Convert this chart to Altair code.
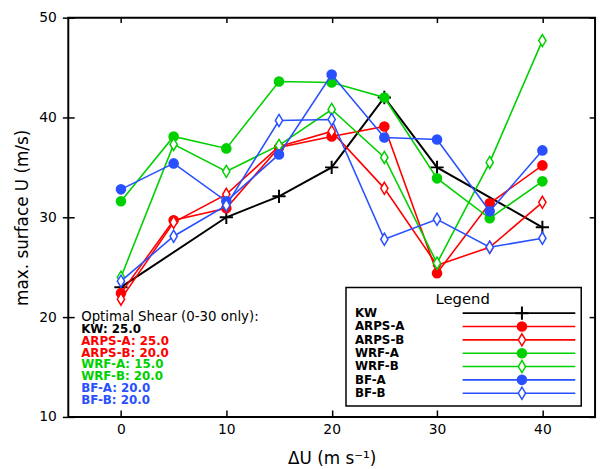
import altair as alt
import pandas as pd

# ---------------- data ----------------
shear = [0, 5, 10, 15, 20, 25, 30, 35, 40]
kw_shear = [0, 10, 15, 20, 25, 30, 40]
kw = [23.0, 30.0, 32.1, 35.0, 42.0, 35.0, 29.0]
arps_a = [22.4, 29.7, 30.9, 37.0, 38.1, 39.1, 24.4, 31.4, 35.2]
arps_b = [21.8, 29.5, 32.3, 37.1, 38.6, 32.9, 25.2, 27.0, 31.5]
wrf_a = [31.6, 38.1, 36.9, 43.6, 43.5, 42.0, 33.9, 29.9, 33.6]
wrf_b = [24.0, 37.3, 34.6, 37.2, 40.8, 36.0, 25.4, 35.5, 47.7]
bf_a = [32.8, 35.4, 31.6, 36.3, 44.3, 38.0, 37.8, 30.6, 36.7]
bf_b = [23.6, 28.1, 31.2, 39.7, 39.8, 27.8, 29.8, 27.0, 27.9]

series_names = ["KW", "ARPS-A", "ARPS-B", "WRF-A", "WRF-B", "BF-A", "BF-B"]
series_colors = ["#000000", "#ff0000", "#ff0000", "#00d000", "#00d000", "#2850ff", "#2850ff"]
series_markers = ["cross", "circle", "diamond", "circle", "diamond", "circle", "diamond"]
optimal_shear = [25.0, 25.0, 20.0, 15.0, 20.0, 20.0, 20.0]

x_ticks = [0, 10, 20, 30, 40]
y_ticks = [10, 20, 30, 40, 50]

# ---------------- build tables ----------------
series_x = [kw_shear, shear, shear, shear, shear, shear, shear]
series_y = [kw, arps_a, arps_b, wrf_a, wrf_b, bf_a, bf_b]
rows = []
for name, xs_, ys_ in zip(series_names, series_x, series_y):
    for xv, yv in zip(xs_, ys_):
        rows.append({"series": name, "x": xv, "y": yv})
df = pd.DataFrame(rows)

FONT = "DejaVu Sans"
DIAMOND = "M0,-1L0.6,0L0,1L-0.6,0Z"
CROSS = "M-1,0L1,0M0,-1L0,1"

xs = alt.Scale(domain=[-5, 45], nice=False, zero=False)
ys = alt.Scale(domain=[10, 50], nice=False, zero=False)
cs = alt.Scale(domain=series_names, range=series_colors)

TOP = 7  # top padding so the "50" label is not clipped


def marker_mark(kind, color, base):
    if kind == "circle":
        return base.mark_point(shape="circle", size=115, filled=True, color=color, opacity=1)
    if kind == "diamond":
        return base.mark_point(shape=DIAMOND, size=150, fill="white", fillOpacity=1,
                               stroke=color, strokeWidth=1.5, opacity=1)
    return base.mark_point(shape=CROSS, size=180, filled=False, stroke=color,
                           strokeWidth=2, opacity=1)


layers = []

# axis carriers (bottom/left with labels, top/right ticks only)
axis_base = alt.Chart(df)
layers.append(
    axis_base.mark_point(opacity=0).encode(
        x=alt.X("x:Q", scale=xs, axis=alt.Axis(
            orient="bottom", values=x_ticks, domain=False, grid=False, offset=-7,
            tickSize=7, tickWidth=1.5, tickColor="black", labelPadding=6,
            labelFont=FONT, labelFontSize=14, labelColor="black", labelFlush=False,
            title="ΔU (m s⁻¹)", titleFont=FONT, titleFontSize=17,
            titleFontWeight="normal", titleColor="black", titlePadding=14)),
        y=alt.Y("y:Q", scale=ys, axis=alt.Axis(
            orient="left", values=y_ticks, domain=False, grid=False, offset=-6,
            tickSize=12, tickWidth=1.5, tickColor="black", labelPadding=6,
            labelFont=FONT, labelFontSize=14, labelColor="black", labelFlush=False,
            title="max. surface U (m/s)", titleFont=FONT, titleFontSize=17,
            titleFontWeight="normal", titleColor="black", titlePadding=7)),
    )
)
layers.append(
    axis_base.mark_point(opacity=0).encode(
        x=alt.X("x:Q", scale=xs, axis=alt.Axis(
            orient="top", values=x_ticks, domain=False, grid=False, offset=-5,
            tickSize=5, tickWidth=1.5, tickColor="black", labels=False, title=None)),
        y=alt.Y("y:Q", scale=ys, axis=alt.Axis(
            orient="right", values=y_ticks, domain=False, grid=False, offset=-6,
            tickSize=6, tickWidth=1.5, tickColor="black", labels=False, title=None)),
    )
)

# data series
for name, color, kind in zip(series_names, series_colors, series_markers):
    base = alt.Chart(df).transform_filter(alt.datum.series == name).encode(
        x=alt.X("x:Q", scale=xs, axis=None),
        y=alt.Y("y:Q", scale=ys, axis=None),
    )
    lw = 2 if name == "KW" else 1.6
    layers.append(base.mark_line(color=color, strokeWidth=lw))
    layers.append(marker_mark(kind, color, base))

# annotation block (plot pixel coordinates)
ann_df = pd.DataFrame({
    "series": series_names,
    "txt": [f"{n}: {v:.1f}" for n, v in zip(series_names, optimal_shear)],
    "ay": [322 - TOP + 12 * i for i in range(len(series_names))],
})
layers.append(
    alt.Chart(pd.DataFrame({"t": ["Optimal Shear (0-30 only):"]})).mark_text(
        align="left", baseline="middle", font=FONT, fontSize=13.5, color="black"
    ).encode(x=alt.value(13), y=alt.value(310 - TOP), text="t:N")
)
layers.append(
    alt.Chart(ann_df).mark_text(
        align="left", baseline="middle", font=FONT, fontSize=12, fontWeight="bold"
    ).encode(
        x=alt.value(13),
        y=alt.Y("ay:Q", scale=None, axis=None),
        text="txt:N",
        color=alt.Color("series:N", scale=cs, legend=None),
    )
)

# custom legend box
leg_df = pd.DataFrame({
    "series": series_names,
    "ly": [306 - TOP + 13.5 * i for i in range(len(series_names))],
    "marker": series_markers,
})
layers.append(
    alt.Chart(pd.DataFrame({"t": ["Legend"]})).mark_rect(
        fill="white", stroke="black", strokeWidth=1.5
    ).encode(x=alt.value(281), x2=alt.value(519), y=alt.value(280 - TOP), y2=alt.value(400 - TOP))
)
layers.append(
    alt.Chart(pd.DataFrame({"t": ["Legend"]})).mark_text(
        align="center", baseline="middle", font=FONT, fontSize=15, color="black"
    ).encode(x=alt.value(399), y=alt.value(292 - TOP), text="t:N")
)
layers.append(
    alt.Chart(leg_df).mark_text(
        align="left", baseline="middle", font=FONT, fontSize=12, fontWeight="bold", color="black"
    ).encode(x=alt.value(290), y=alt.Y("ly:Q", scale=None, axis=None), text="series:N")
)
layers.append(
    alt.Chart(leg_df).mark_rule(strokeWidth=1.6).encode(
        x=alt.value(399), x2=alt.value(513),
        y=alt.Y("ly:Q", scale=None, axis=None),
        color=alt.Color("series:N", scale=cs, legend=None),
    )
)
for name, color, kind in zip(series_names, series_colors, series_markers):
    lb = alt.Chart(leg_df).transform_filter(alt.datum.series == name).encode(
        x=alt.value(459), y=alt.Y("ly:Q", scale=None, axis=None)
    )
    layers.append(marker_mark(kind, color, lb))

chart = alt.layer(*layers).resolve_axis(
    x="independent", y="independent"
).properties(
    width=533, height=404,
    padding={"left": 61, "top": TOP, "right": 5, "bottom": 56},
    autosize=alt.AutoSizeParams(type="none"),
).configure_view(stroke="black", strokeWidth=2)

chart.save("out.html", embed_options={"renderer": "svg", "actions": False})
